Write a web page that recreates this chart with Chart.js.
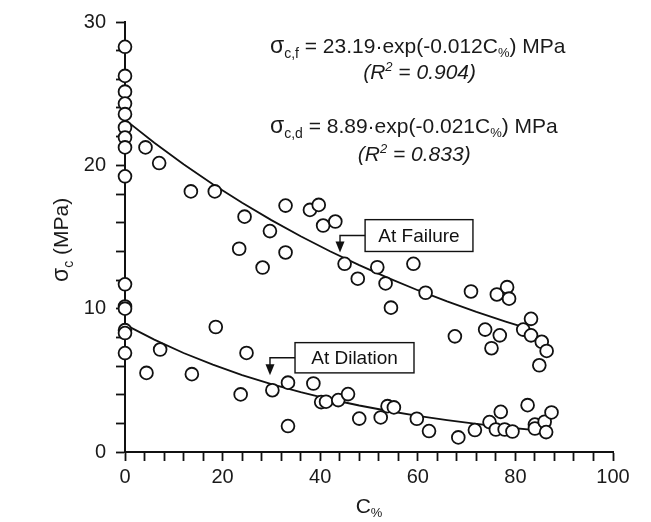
<!DOCTYPE html>
<html lang="en">
<head>
  <meta charset="UTF-8">
  <title>Compressive strength vs C%</title>
  <script src="https://cdn.jsdelivr.net/npm/chart.js"></script>
  <style>
    html, body { margin: 0; padding: 0; background: #fff; }
  </style>
</head>
<body>
  <canvas id="chartSigma" width="651" height="522"></canvas>

  <script>
    // Strength at failure: C% and sigma_c (MPa)
    const failureC = [0, 0, 0, 0, 0, 0, 0, 0, 0,
      4.2, 7.0, 13.5, 18.4, 24.5, 23.4, 29.7, 28.2, 32.9, 32.9,
      37.9, 39.7, 40.6, 43.1, 45.0, 47.7, 51.7, 53.4, 54.5, 59.1,
      61.6, 67.6, 70.9, 73.8, 75.1, 76.2, 78.3, 78.7, 76.8, 81.6,
      83.2, 83.2, 85.4, 86.4, 84.9];
    const failureSigma = [28.27, 26.24, 25.14, 24.31, 23.57, 22.64, 21.94, 21.25, 19.23,
      21.25, 20.16, 18.18, 18.18, 16.42, 14.18, 15.41, 12.87, 17.19, 13.92,
      16.89, 17.24, 15.80, 16.08, 13.13, 12.09, 12.89, 11.76, 10.07, 13.13,
      11.11, 8.07, 11.20, 8.54, 7.24, 10.99, 11.50, 10.70, 8.14, 8.54,
      9.29, 8.14, 7.69, 7.05, 6.05];

    // Strength at dilation
    const dilationC = [0, 0, 0, 0, 0, 0,
      4.4, 7.2, 13.7, 18.6, 23.7, 24.9, 30.2, 33.4, 33.4, 38.6,
      40.2, 41.2, 43.7, 45.7, 48.0, 52.4, 53.8, 55.1, 59.8, 62.3,
      68.3, 71.7, 74.7, 76.0, 77.0, 77.8, 79.4, 82.5, 84.0, 84.0,
      86.0, 86.3, 87.4];
    const dilationSigma = [11.7, 10.15, 10.0, 8.5, 8.3, 6.9,
      5.52, 7.15, 5.43, 8.72, 4.02, 6.91, 4.31, 4.84, 1.81, 4.78,
      3.48, 3.51, 3.62, 4.04, 2.33, 2.41, 3.20, 3.11, 2.32, 1.46,
      1.02, 1.53, 2.09, 1.57, 2.80, 1.57, 1.43, 3.27, 1.91, 1.64,
      2.11, 1.39, 2.76];

    // Fitted curves  sigma = a * exp(-b * C%)
    const fitFailure = [23.19, 0.012];
    const fitDilation = [8.89, 0.021];
    const curveFailureC = [0, 6, 12, 18, 24, 30, 36, 42, 48, 54, 60, 66, 72, 78, 84];
    const curveDilationC = [0, 6, 12, 18, 24, 30, 36, 42, 48, 54, 60, 66, 72, 78, 84, 86];

    // Axis tick labels
    const xTicks = [0, 20, 40, 60, 80, 100];
    const yTicks = [0, 10, 20, 30];

    const FONT = '"Liberation Sans", Arial, sans-serif';
    const INK = '#111';

    function toPoints(xs, ys) {
      return xs.map((x, i) => ({ x: x, y: ys[i] }));
    }
    function fitPoints(xs, fit) {
      return xs.map(x => ({ x: x, y: fit[0] * Math.exp(-fit[1] * x) }));
    }

    // text with sub/superscripts: [text, size, dy, style]
    function richText(ctx, x, y, parts) {
      let cx = x;
      parts.forEach(p => {
        ctx.font = (p[3] || '') + ' ' + p[1] + 'px ' + FONT;
        ctx.fillText(p[0], cx, y + (p[2] || 0));
        cx += ctx.measureText(p[0]).width;
      });
      return cx;
    }

    // boxed label with a leader line and arrow onto the curve
    function calloutBox(ctx, xs, ys, box, tip, text) {
      const l = xs.getPixelForValue(box[0]), r = xs.getPixelForValue(box[1]);
      const t = ys.getPixelForValue(box[2]), b = ys.getPixelForValue(box[3]);
      const lineY = (t + b) / 2;
      const tx = xs.getPixelForValue(tip[0]), ty = ys.getPixelForValue(tip[1]);
      ctx.save();
      ctx.strokeStyle = INK;
      ctx.lineWidth = 1.4;
      ctx.fillStyle = '#fff';
      ctx.fillRect(l, t, r - l, b - t);
      ctx.strokeRect(l, t, r - l, b - t);
      ctx.beginPath();
      ctx.moveTo(l, lineY);
      ctx.lineTo(tx, lineY);
      ctx.lineTo(tx, ty - 9);
      ctx.stroke();
      ctx.fillStyle = INK;
      ctx.beginPath();
      ctx.moveTo(tx - 4.5, ty - 11);
      ctx.lineTo(tx + 4.5, ty - 11);
      ctx.lineTo(tx, ty);
      ctx.closePath();
      ctx.fill();
      ctx.font = '19px ' + FONT;
      ctx.textAlign = 'center';
      ctx.textBaseline = 'middle';
      ctx.fillText(text, (l + r) / 2, lineY + 1);
      ctx.restore();
    }

    const labelsPlugin = {
      id: 'labelsPlugin',
      afterDraw(chart) {
        const ctx = chart.ctx;
        const xs = chart.scales.x, ys = chart.scales.y;
        const px = v => xs.getPixelForValue(v);
        const py = v => ys.getPixelForValue(v);
        ctx.save();
        ctx.fillStyle = '#1a1a1a';
        ctx.textBaseline = 'alphabetic';
        ctx.textAlign = 'left';

        // equations
        richText(ctx, px(29.7), py(27.84), [
          ['σ', 23, 0], ['c,f', 14, 5], [' = 23.19·exp(-0.012C', 21, 0], ['%', 13, 4], [') MPa', 21, 0]]);
        richText(ctx, px(48.8), py(26.03), [
          ['(R', 21, 0, 'italic'], ['2', 13, -8, 'italic'], [' = 0.904)', 21, 0, 'italic']]);
        richText(ctx, px(29.7), py(22.27), [
          ['σ', 23, 0], ['c,d', 14, 5], [' = 8.89·exp(-0.021C', 21, 0], ['%', 13, 4], [') MPa', 21, 0]]);
        richText(ctx, px(47.7), py(20.32), [
          ['(R', 21, 0, 'italic'], ['2', 13, -8, 'italic'], [' = 0.833)', 21, 0, 'italic']]);

        // x axis title
        ctx.font = '21px ' + FONT;
        const wC = ctx.measureText('C').width;
        ctx.font = '13px ' + FONT;
        const wP = ctx.measureText('%').width;
        const cx = (xs.left + xs.right) / 2;
        richText(ctx, cx - (wC + wP) / 2, 513, [['C', 21, 0], ['%', 13, 4]]);

        // y axis title
        ctx.save();
        ctx.translate(68, 282);
        ctx.rotate(-Math.PI / 2);
        richText(ctx, 0, 0, [['σ', 23, 0], ['c', 14, 5], [' (MPa)', 21, 0]]);
        ctx.restore();
        ctx.restore();

        calloutBox(ctx, xs, ys, [49.2, 71.3, 16.21, 13.99], [44.06, 13.92], 'At Failure');
        calloutBox(ctx, xs, ys, [34.84, 59.22, 7.63, 5.52], [29.71, 5.36], 'At Dilation');
      }
    };

    const pointStyle = {
      pointRadius: 6.4,
      pointHoverRadius: 6.4,
      pointBorderWidth: 1.8,
      pointBorderColor: INK,
      pointBackgroundColor: '#fff',
      showLine: false,
      clip: false,
      order: 0
    };
    const curveStyle = {
      type: 'line',
      borderColor: INK,
      borderWidth: 1.8,
      pointRadius: 0,
      fill: false,
      tension: 0,
      clip: false,
      order: 2
    };

    const ctxSigma = document.getElementById('chartSigma').getContext('2d');
    const chartSigma = new Chart(ctxSigma, {
      type: 'scatter',
      data: {
        datasets: [
          Object.assign({ label: 'At Failure', data: toPoints(failureC, failureSigma) }, pointStyle),
          Object.assign({ label: 'At Dilation', data: toPoints(dilationC, dilationSigma) }, pointStyle),
          Object.assign({ label: 'Fit failure', data: fitPoints(curveFailureC, fitFailure) }, curveStyle),
          Object.assign({ label: 'Fit dilation', data: fitPoints(curveDilationC, fitDilation) }, curveStyle)
        ]
      },
      options: {
        responsive: false,
        animation: false,
        layout: { padding: { left: 80, top: 21, right: 38, bottom: 30 } },
        plugins: {
          legend: { display: false },
          tooltip: { enabled: false }
        },
        scales: {
          x: {
            type: 'linear',
            min: 0,
            max: 100,
            afterFit: s => { s.height = 40; },
            ticks: {
              stepSize: 4,
              autoSkip: false,
              maxRotation: 0,
              padding: 4,
              color: '#1a1a1a',
              font: { family: FONT, size: 20 },
              callback: v => xTicks.includes(v) ? v : ''
            },
            grid: { display: true, drawOnChartArea: false, drawTicks: true, tickLength: 9, tickWidth: 1.8, tickColor: INK },
            border: { display: true, color: INK, width: 2 }
          },
          y: {
            type: 'linear',
            min: 0,
            max: 30,
            afterFit: s => { s.width = 45; },
            ticks: {
              stepSize: 2,
              autoSkip: false,
              padding: 10,
              color: '#1a1a1a',
              font: { family: FONT, size: 20 },
              callback: v => yTicks.includes(v) ? v : ''
            },
            grid: { display: true, drawOnChartArea: false, drawTicks: true, tickLength: 9, tickWidth: 1.8, tickColor: INK },
            border: { display: true, color: INK, width: 2 }
          }
        }
      },
      plugins: [labelsPlugin]
    });
  </script>
</body>
</html>
